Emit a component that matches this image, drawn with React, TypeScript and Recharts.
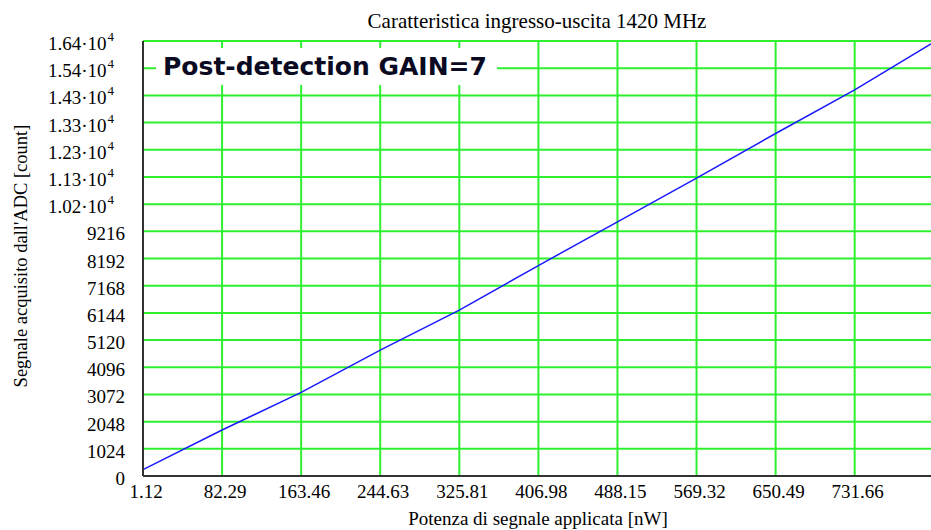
import React from 'react';
import { LineChart, Line, XAxis, YAxis, CartesianGrid } from 'recharts';

// potenza applicata [nW] vs conteggi ADC
const power = [1.12, 82.29, 163.46, 244.63, 325.81, 406.98, 488.15, 569.32, 650.49, 731.66, 810];
const counts = [243, 1733, 3148, 4741, 6247, 7927, 9574, 11220, 12900, 14542, 16272];

const xTicks = [1.12, 82.29, 163.46, 244.63, 325.81, 406.98, 488.15, 569.32, 650.49, 731.66];
const yTicks = [0, 1024, 2048, 3072, 4096, 5120, 6144, 7168, 8192, 9216, 10240, 11264, 12288, 13312, 14336, 15360, 16384];
const yMantissa = ['0', '1024', '2048', '3072', '4096', '5120', '6144', '7168', '8192', '9216', '1.02', '1.13', '1.23', '1.33', '1.43', '1.54', '1.64'];

const data = power.map((p, i) => ({ p, c: counts[i] }));

const SERIF = '"Liberation Serif", "Times New Roman", serif';

const YTick = (props: any) => {
    const { x, y, payload } = props;
    const idx = yTicks.indexOf(payload.value);
    const label = yMantissa[idx] ?? String(payload.value);
    if (payload.value >= 10240) {
        return (
            <text x={x - 21} y={y + 9} textAnchor="end" fontFamily={SERIF} fontSize={19} fill="#000">
                {label}·10
                <tspan dx={1} dy={-9} fontSize={13}>4</tspan>
            </text>
        );
    }
    return (
        <text x={x - 10} y={y + 9} textAnchor="end" fontFamily={SERIF} fontSize={19} fill="#000">
            {label}
        </text>
    );
};

const XTick = (props: any) => {
    const { x, payload } = props;
    return (
        <text x={x + 3} y={498} textAnchor="middle" fontFamily={SERIF} fontSize={19} fill="#000">
            {payload.value.toFixed(2)}
        </text>
    );
};

export default function App() {
    return (
        <div style={{ position: 'absolute', left: 0, top: 0, width: 931, height: 530, background: '#fff', overflow: 'hidden' }}>
            <LineChart width={931} height={530} data={data} margin={{ top: 41, right: 0, bottom: 0, left: 0 }}>
                <CartesianGrid stroke="#2ef02e" strokeWidth={2} horizontalValues={yTicks} verticalValues={xTicks} />
                <XAxis
                    dataKey="p"
                    type="number"
                    domain={[1.12, 810]}
                    ticks={xTicks}
                    tickLine={false}
                    axisLine={{ stroke: '#333', strokeWidth: 2 }}
                    tick={<XTick />}
                    height={54}
                    interval={0}
                />
                <XAxis xAxisId="top" orientation="top" dataKey="p" type="number" domain={[1.12, 810]} tick={false} tickLine={false} height={0} axisLine={{ stroke: '#333', strokeWidth: 2 }} />
                <YAxis
                    type="number"
                    domain={[0, 16384]}
                    ticks={yTicks}
                    tickLine={false}
                    axisLine={{ stroke: '#333', strokeWidth: 2 }}
                    tick={<YTick />}
                    width={143}
                    interval={0}
                />
                <Line dataKey="c" stroke="#1a1aff" strokeWidth={1.5} dot={false} isAnimationActive={false} />
            </LineChart>
            <div style={{ position: 'absolute', left: 0, width: 1074, top: 8, textAlign: 'center', fontFamily: SERIF, fontSize: 21, lineHeight: '26px', whiteSpace: 'nowrap' }}>
                Caratteristica ingresso-uscita 1420 MHz
            </div>
            <div style={{ position: 'absolute', left: 0, width: 1076, top: 507, textAlign: 'center', fontFamily: SERIF, fontSize: 19, lineHeight: '24px', whiteSpace: 'nowrap' }}>
                Potenza di segnale applicata [nW]
            </div>
            <div style={{ position: 'absolute', left: 21, top: 256, width: 0, height: 0 }}>
                <div style={{ position: 'absolute', left: -200, top: -12, width: 400, textAlign: 'center', transform: 'rotate(-90deg)', fontFamily: SERIF, fontSize: 18.5, lineHeight: '24px', whiteSpace: 'nowrap' }}>
                    Segnale acquisito dall'ADC [count]
                </div>
            </div>
            <div style={{ position: 'absolute', left: 156, top: 48, width: 341, height: 37, background: '#fff', fontFamily: '"DejaVu Sans", Verdana, sans-serif', fontWeight: 'bold', fontSize: 25, lineHeight: '37px', color: '#0a0a22', paddingLeft: 7, boxSizing: 'border-box', whiteSpace: 'nowrap' }}>
                Post-detection GAIN=7
            </div>
        </div>
    );
}
